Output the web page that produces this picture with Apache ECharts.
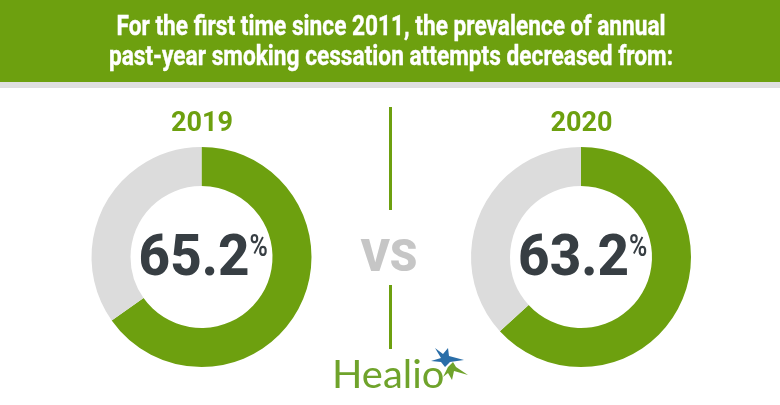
<!DOCTYPE html>
<html>
<head>
<meta charset="utf-8">
<style>
  html, body { margin: 0; padding: 0; background: #fff; }
  #chart { width: 780px; height: 405px; }
</style>
<script src="https://cdn.jsdelivr.net/npm/echarts@6/dist/echarts.min.js"></script>
</head>
<body>
<div id="chart"></div>
<script>
// data
const years = ['2019', '2020'];
const prevalence = [65.2, 63.2];
const titleLines = [
  'For the first time since 2011, the prevalence of annual',
  'past-year smoking cessation attempts decreased from:'
];

const GREEN = '#6da00f';
const GREY = '#dcdcdc';
const DARK = '#373e43';
const centers = [201.5, 581];
const CY = 257;

const chart = echarts.init(document.getElementById('chart'), null, { renderer: 'canvas' });

// 两个环形图
const series = prevalence.map((v, i) => ({
  type: 'pie',
  center: [centers[i], CY],
  radius: [71, 110],
  startAngle: 90,
  clockwise: true,
  silent: true,
  animation: false,
  label: { show: false },
  labelLine: { show: false },
  itemStyle: { borderWidth: 0 },
  data: [
    { value: v, name: 'Attempted', itemStyle: { color: GREEN } },
    { value: +(100 - v).toFixed(1), name: 'Other', itemStyle: { color: GREY } }
  ]
}));

const graphic = [
  { type: 'rect', z: -1, shape: { x: 0, y: 0, width: 780, height: 82 }, style: { fill: GREEN } },
  { type: 'rect', z: -1, shape: { x: 0, y: 82, width: 780, height: 6 }, style: { fill: '#dfdfdf' } },
  // 分隔线
  { type: 'rect', shape: { x: 389, y: 107, width: 3, height: 103 }, style: { fill: GREEN } },
  { type: 'rect', shape: { x: 389, y: 285, width: 3, height: 64 }, style: { fill: GREEN } },
  {
    type: 'text', x: 389, y: 260,
    style: { text: 'VS', font: '900 44px Roboto', fill: '#c6c6c6', align: 'center', verticalAlign: 'middle' }
  },
  // logo
  {
    type: 'text', x: 332, y: 376, scaleX: 1.05,
    style: { text: 'Healio', font: '400 38px Lato', fill: '#6fa32b', align: 'left', verticalAlign: 'middle' }
  },
  { type: 'polygon', shape: { points: [[435, 348], [443, 354], [448, 348], [449, 356], [464, 360], [450, 362], [445, 367], [441, 362], [431, 361], [441, 358]] }, style: { fill: '#2a6ea8' } },
  { type: 'polygon', shape: { points: [[448, 367], [453, 362], [456, 367], [468, 375], [454, 371], [452, 380], [448, 373], [443, 377]] }, style: { fill: '#6fa32b' } }
];

titleLines.forEach((line, i) => {
  graphic.push({
    type: 'text', x: 391, y: 28 + i * 30, scaleX: 0.81,
    style: { text: line, font: '700 28px Roboto', fill: '#fff', stroke: '#fff', lineWidth: 0.4, align: 'center', verticalAlign: 'middle' }
  });
});

years.forEach((year, i) => {
  graphic.push({
    type: 'text', x: centers[i] + 0.5, y: 124,
    style: { text: year, font: '700 27px Roboto', fill: GREEN, align: 'center', verticalAlign: 'middle' }
  });
  graphic.push({
    type: 'text', x: centers[i] + 48, y: 261, scaleX: 0.96,
    style: { text: prevalence[i].toFixed(1), font: '800 57px Roboto', fill: DARK, align: 'right', verticalAlign: 'middle' }
  });
  graphic.push({
    type: 'text', x: centers[i] + 48, y: 248, scaleX: 0.8,
    style: { text: '%', font: '600 31px Roboto', fill: DARK, align: 'left', verticalAlign: 'middle' }
  });
});

chart.setOption({
  animation: false,
  backgroundColor: '#fff',
  tooltip: { show: false },
  series: series,
  graphic: graphic
});
</script>
</body>
</html>
